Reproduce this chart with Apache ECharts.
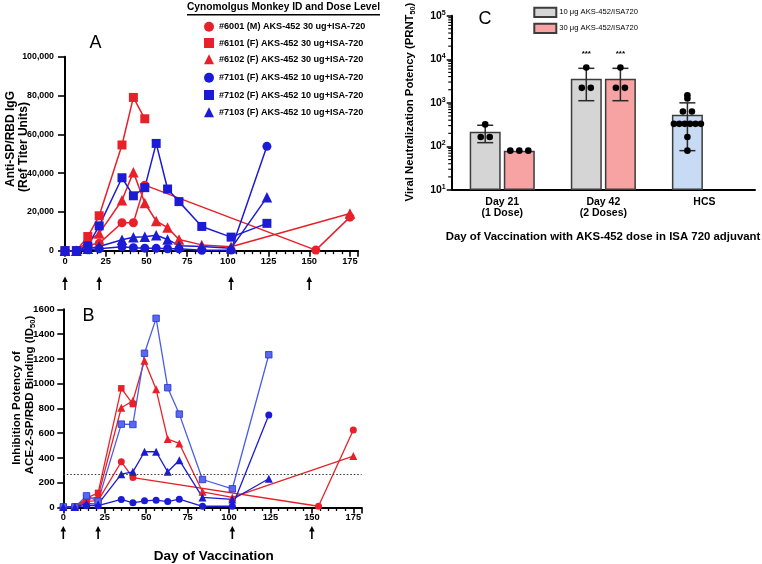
<!DOCTYPE html>
<html><head><meta charset="utf-8">
<script src="https://cdn.jsdelivr.net/npm/echarts@6/dist/echarts.min.js"></script>
<style>html,body{margin:0;padding:0;background:#fff}#c{width:762px;height:564px}</style>
</head><body><div id="c"></div>
<script>
// ---------- DATA ----------
const days = [0, 7, 14, 21, 35, 42, 49, 56, 63, 70, 84, 102, 124, 154, 175];
const doseDays = [0, 21, 102, 150];
const xTicksAB = [0, 25, 50, 75, 100, 125, 150, 175];

// Panel A: Anti-SP/RBD IgG (Ref Titer Units)
const igg6001 = [0, 0, 2800, 3800, 14400, 14400, 33800, null, null, null, null, null, null, 300, 17300];
const igg6101 = [0, 0, 7300, 18000, 54500, 79000, 68000, null, null, null, null, null, null, null, null];
const igg6102 = [0, 0, 4500, 8900, 26000, 40500, 24600, 15300, 11900, 5800, 3000, 2000, null, null, 19200];
const igg7101 = [0, 0, 500, 1000, 2000, 1500, 1300, 1200, 1000, 1000, 200, 300, 53800, null, null];
const igg7102 = [0, 0, 2500, 12800, 37600, 28300, 32500, 55300, 31800, 25300, 12500, 7000, 14100, null, null];
const igg7103 = [0, 0, 1000, 2200, 5600, 6900, 7200, 8000, 5800, 2600, 2200, 1200, 27500, null, null];

// Panel B: Inhibition potency ID50
const ace6001 = [5, 5, 50, 55, 369, 242, null, null, null, null, null, null, null, 10, 625];
const ace6101 = [5, 5, 75, 118, 962, 835, null, null, null, null, null, null, null, null, null];
const ace6102 = [5, 5, 60, 90, 805, 862, 1185, 954, 552, 517, 127, 81, null, null, 415];
const ace7101 = [5, 5, 15, 15, 65, 38, 54, 59, 48, 67, 10, 10, 746, null, null];
const ace7102 = [5, 5, 94, 51, 673, 670, 1245, 1527, 967, 754, 226, 151, 1233, null, null];
const ace7103 = [5, 5, 32, 27, 269, 288, 450, 450, 288, 382, 81, 65, 232, null, null];
const aceThreshold = 270;

const animalNames = [
  '#6001 (M) AKS-452 30 ug+ISA-720',
  '#6101 (F) AKS-452 30 ug+ISA-720',
  '#6102 (F) AKS-452 30 ug+ISA-720',
  '#7101 (F) AKS-452 10 ug+ISA-720',
  '#7102 (F) AKS-452 10 ug+ISA-720',
  '#7103 (F) AKS-452 10 ug+ISA-720'
];

// Panel C: PRNT50
const categoriesC = ['Day 21\n(1 Dose)', 'Day 42\n(2 Doses)', 'HCS'];
const groupNames = ['10 μg AKS-452/ISA720', '30 μg AKS-452/ISA720'];
const mean10 = [216, 3580, 530];      // last = HCS
const mean30 = [80, 3580];
const err10Low = [122, 1120, 80];
const err10High = [306, 6200, 1000];
const err30Low = [80, 1120];
const err30High = [80, 6200];
const sig10 = ['', '***', ''];
const sig30 = ['', '***'];
const dots10 = [[164, 164, 320], [2210, 2210, 6450], [1256, 1490, 635, 635, 330, 330, 330, 330, 330, 330, 164, 80]];
const dots30 = [[80, 80, 80], [2210, 2210, 6450]];

// ---------- STYLE ----------
const FONT = '"Liberation Sans", Arial, sans-serif';
const RED = '#e8202a', BLUE = '#1b1bd6';
const LB_LINE = '#4a5ce6', LB_FILL = '#5868f0', LB_BORDER = '#2434cc';
const BAR_W = 31, BAR_GAP = 0.1;
const SLOT_OFF = (BAR_W + BAR_W * BAR_GAP) / 2;

const igg = [igg6001, igg6101, igg6102, igg7101, igg7102, igg7103];
const ace = [ace6001, ace6101, ace6102, ace7101, ace7102, ace7103];
const colors = [RED, RED, RED, BLUE, BLUE, BLUE];
const symbols = ['circle', 'rect', 'triangle', 'circle', 'rect', 'triangle'];
const sizeA = {circle: 9, rect: 9, triangle: 10.5};
const sizeB = {circle: 7, rect: 6.5, triangle: 8};

function pairs(vals) {
  const out = [];
  vals.forEach((v, i) => { if (v !== null) out.push([days[i], v]); });
  return out;
}

const gridA = {left: 65, top: 56.7, width: 293.1, height: 194};
const gridB = {left: 63.3, top: 309.3, width: 298.3, height: 198.2};
const gridC = {left: 451.7, top: 15.7, width: 303.3, height: 174.3};

function majorX(gi) {
  return {
    type: 'value', gridIndex: gi, position: 'bottom', min: 0, max: 180, interval: 25,
    axisLine: {show: true, onZero: false, lineStyle: {color: '#000', width: 2}},
    axisTick: {show: true, length: 6, lineStyle: {color: '#000', width: 1.6}},
    minorTick: {show: true, splitNumber: 5, length: 3.5, lineStyle: {color: '#000', width: 1.3}},
    axisLabel: {show: true, showMaxLabel: false, margin: gi === 0 ? 6 : 5, color: '#000',
      fontFamily: FONT, fontWeight: 'bold', fontSize: 9.3,
      formatter: v => xTicksAB.indexOf(v) >= 0 ? String(v) : ''},
    splitLine: {show: false}
  };
}

const series = [];
igg.forEach((vals, i) => {
  series.push({
    type: 'line', name: animalNames[i], xAxisIndex: 0, yAxisIndex: 0,
    data: pairs(vals), connectNulls: true, symbol: symbols[i], symbolSize: sizeA[symbols[i]],
    lineStyle: {color: colors[i], width: 1.5}, itemStyle: {color: colors[i]},
    z: 3
  });
});
ace.forEach((vals, i) => {
  const lb = i === 4;
  const s = {
    type: 'line', name: animalNames[i], xAxisIndex: 1, yAxisIndex: 1,
    data: pairs(vals), connectNulls: true, symbol: symbols[i], symbolSize: sizeB[symbols[i]],
    lineStyle: {color: lb ? LB_LINE : colors[i], width: 1.3},
    itemStyle: lb ? {color: LB_FILL, borderColor: LB_BORDER, borderWidth: 0.8} : {color: colors[i]},
    z: 3
  };
  if (i === 0) {
    s.markLine = {silent: true, symbol: 'none', label: {show: false}, animation: false,
      lineStyle: {type: [1.5, 2], color: '#333', width: 1}, data: [{yAxis: aceThreshold}]};
  }
  series.push(s);
});

// Panel C bars
series.push({
  type: 'bar', name: groupNames[0], xAxisIndex: 2, yAxisIndex: 2,
  barWidth: BAR_W, barGap: (BAR_GAP * 100) + '%',
  data: mean10.map((v, i) => i === 2 ? {value: v, itemStyle: {color: '#c7dbf4'}} : v),
  itemStyle: {color: '#d5d5d5', borderColor: '#3c3c3c', borderWidth: 1.5}, z: 2
});
series.push({
  type: 'bar', name: groupNames[1], xAxisIndex: 2, yAxisIndex: 2,
  barWidth: BAR_W, barGap: (BAR_GAP * 100) + '%',
  data: mean30.concat(['-']),
  itemStyle: {color: '#f7a3a3', borderColor: '#3c3c3c', borderWidth: 1.5}, z: 2
});

// Error bars
const errData = [], sigs = [];
mean10.forEach((m, i) => { errData.push([i, 0, err10Low[i], err10High[i]]); sigs.push(sig10[i]); });
mean30.forEach((m, i) => { errData.push([i, 1, err30Low[i], err30High[i]]); sigs.push(sig30[i]); });
series.push({
  type: 'custom', xAxisIndex: 2, yAxisIndex: 2, data: errData, encode: {x: 0, y: [2, 3]}, z: 5,
  renderItem(params, api) {
    const cat = api.value(0), slot = api.value(1);
    const lo = api.coord([cat, api.value(2)]), hi = api.coord([cat, api.value(3)]);
    const x = lo[0] + (slot === 0 ? -1 : 1) * SLOT_OFF;
    const cw = 8, st = {stroke: '#2a2a2a', lineWidth: 1.5};
    const ch = [];
    if (Math.abs(lo[1] - hi[1]) > 1) {
      ch.push({type: 'line', shape: {x1: x, y1: lo[1], x2: x, y2: hi[1]}, style: st});
      ch.push({type: 'line', shape: {x1: x - cw, y1: hi[1], x2: x + cw, y2: hi[1]}, style: st});
      ch.push({type: 'line', shape: {x1: x - cw, y1: lo[1], x2: x + cw, y2: lo[1]}, style: st});
    }
    const s = sigs[params.dataIndex];
    if (s) ch.push({type: 'text', x: x, y: hi[1] - 15,
      style: {text: s, fill: '#000', font: 'bold 8px ' + FONT, textAlign: 'center', textVerticalAlign: 'middle', align: 'center', verticalAlign: 'middle'}});
    return {type: 'group', children: ch};
  }
});

// Dots
function jitter(vals) {
  const counts = {}, idx = {};
  vals.forEach(v => counts[v] = (counts[v] || 0) + 1);
  return vals.map(v => {
    const n = counts[v]; const i = idx[v] = (idx[v] || 0); idx[v]++;
    const sp = n > 1 ? Math.min(9, 27 / (n - 1)) : 0;
    return (i - (n - 1) / 2) * sp;
  });
}
const dotData = [];
dots10.forEach((vals, c) => { const j = jitter(vals); vals.forEach((v, k) => dotData.push([c, 0, v, j[k]])); });
dots30.forEach((vals, c) => { const j = jitter(vals); vals.forEach((v, k) => dotData.push([c, 1, v, j[k]])); });
series.push({
  type: 'custom', xAxisIndex: 2, yAxisIndex: 2, data: dotData, encode: {x: 0, y: 2}, z: 6,
  renderItem(params, api) {
    const p = api.coord([api.value(0), api.value(2)]);
    const x = p[0] + (api.value(1) === 0 ? -1 : 1) * SLOT_OFF + api.value(3);
    return {type: 'circle', shape: {cx: x, cy: p[1], r: 3.3}, style: {fill: '#000'}};
  }
});

// Log minor ticks for panel C
const minorLog = [];
for (let d = 1; d < 5; d++) for (let k = 2; k <= 9; k++) minorLog.push([0, k * Math.pow(10, d)]);
series.push({
  type: 'custom', xAxisIndex: 2, yAxisIndex: 2, data: minorLog, encode: {x: 0, y: 1}, z: 4, silent: true, clip: false,
  renderItem(params, api) {
    const p = api.coord([0, api.value(1)]);
    const band = api.size([1, 0])[0];
    const x0 = p[0] - band / 2;
    return {type: 'line', shape: {x1: x0 - 3.5, y1: p[1], x2: x0, y2: p[1]}, style: {stroke: '#000', lineWidth: 1.1}};
  }
});

const legendText = {color: '#000', fontFamily: FONT, fontWeight: 'bold', fontSize: 9.1};
const option = {
  animation: false,
  grid: [gridA, gridB, gridC],
  xAxis: [majorX(0), majorX(1), {
    type: 'category', gridIndex: 2, data: categoriesC, boundaryGap: true,
    axisLine: {lineStyle: {color: '#000', width: 2}},
    axisTick: {alignWithLabel: true, length: 5, lineStyle: {color: '#000', width: 1.5}},
    axisLabel: {color: '#000', fontFamily: FONT, fontWeight: 'bold', fontSize: 10.5, lineHeight: 11.5, margin: 6}
  }],
  yAxis: [{
    type: 'value', gridIndex: 0, min: 0, max: 100000, interval: 20000,
    axisLine: {show: true, lineStyle: {color: '#000', width: 2}},
    axisTick: {show: true, length: 7, lineStyle: {color: '#000', width: 1.6}},
    axisLabel: {color: '#000', fontFamily: FONT, fontWeight: 'bold', fontSize: 8.8, margin: 11,
      formatter: v => v.toLocaleString('en-US')},
    splitLine: {show: false}
  }, {
    type: 'value', gridIndex: 1, min: 0, max: 1600, interval: 200,
    axisLine: {show: true, lineStyle: {color: '#000', width: 2}},
    axisTick: {show: true, length: 6, lineStyle: {color: '#000', width: 1.6}},
    axisLabel: {color: '#000', fontFamily: FONT, fontWeight: 'bold', fontSize: 9.8, margin: 8.5,
      formatter: v => String(v)},
    splitLine: {show: false}
  }, {
    type: 'log', gridIndex: 2, logBase: 10, min: 10, max: 100000, startValue: 10,
    axisLine: {show: true, lineStyle: {color: '#000', width: 2}},
    axisTick: {show: true, length: 5, lineStyle: {color: '#000', width: 1.5}},
    axisLabel: {color: '#000', margin: 6,
      formatter: v => '{b|10}{s|' + Math.round(Math.log10(v)) + '}',
      rich: {b: {fontFamily: FONT, fontWeight: 'bold', fontSize: 10.5, color: '#000'},
             s: {fontFamily: FONT, fontWeight: 'bold', fontSize: 7, color: '#000', padding: [0, 0, 6, 0]}}},
    splitLine: {show: false}
  }],
  legend: [{
    data: animalNames.slice(0, 3).map((n, i) => ({name: n, icon: symbols[i]})),
    orient: 'vertical', left: 204, top: 21.7, padding: 0, itemWidth: 10, itemHeight: 10, itemGap: 6.3,
    textStyle: legendText, selectedMode: false
  }, {
    data: animalNames.slice(3).map((n, i) => ({name: n, icon: symbols[i + 3]})),
    orient: 'vertical', left: 204, top: 72.7, padding: 0, itemWidth: 10, itemHeight: 10, itemGap: 7.3,
    textStyle: legendText, selectedMode: false
  }, {
    data: groupNames.map(n => ({name: n, icon: 'rect'})),
    orient: 'vertical', left: 533.3, top: 6.7, padding: 0, itemWidth: 22, itemHeight: 9.3, itemGap: 4.7,
    textStyle: {color: '#000', fontFamily: FONT, fontSize: 7.6, padding: [0, 0, 0, -2]}, selectedMode: false
  }],
  series: series
};

const chart = echarts.init(document.getElementById('c'));
chart.setOption(option);

// ---------- annotations ----------
function txt(x, y, text, font, rot, rich) {
  const st = {text: text, fill: '#000', font: font, textAlign: 'center', textVerticalAlign: 'middle', align: 'center', verticalAlign: 'middle'};
  if (rich) st.rich = rich;
  return {type: 'text', x: x, y: y, rotation: rot || 0, style: st, z: 100};
}
const subRich = (fs) => ({
  a: {fontFamily: FONT, fontWeight: 'bold', fontSize: fs, fill: '#000'},
  s: {fontFamily: FONT, fontWeight: 'bold', fontSize: fs * 0.65, fill: '#000', padding: [fs * 0.45, 0, 0, 0]}
});
const R90 = Math.PI / 2;
const graphics = [
  txt(95.5, 43.5, 'A', '18px ' + FONT),
  txt(88.5, 316, 'B', '18px ' + FONT),
  txt(485, 19, 'C', '18px ' + FONT),
  txt(283.5, 7.5, 'Cynomolgus Monkey ID and Dose Level', 'bold 10.2px ' + FONT),
  {type: 'rect', shape: {x: 187, y: 14, width: 193, height: 1.5}, style: {fill: '#000'}},
  txt(11, 139, 'Anti-SP/RBD IgG', 'bold 12px ' + FONT, R90),
  txt(23.5, 147, '(Ref Titer Units)', 'bold 12px ' + FONT, R90),
  txt(17, 408, 'Inhibition Potency of', 'bold 11.5px ' + FONT, R90),
  txt(30, 395, '{a|ACE-2-SP/RBD Binding (ID}{s|50}{a|)}', 'bold 11.5px ' + FONT, R90, subRich(11.5)),
  txt(410, 102, '{a|Viral Neutralization Potency (PRNT}{s|50}{a|)}', 'bold 11.3px ' + FONT, R90, subRich(11.3)),
  txt(213.7, 556, 'Day of Vaccination', 'bold 13.5px ' + FONT),
  txt(603, 237, 'Day of Vaccination with AKS-452 dose in ISA 720 adjuvant', 'bold 11.4px ' + FONT)
];
function arrow(x, yTop, yBot) {
  return {type: 'group', children: [
    {type: 'line', shape: {x1: x, y1: yTop + 4, x2: x, y2: yBot}, style: {stroke: '#000', lineWidth: 1.6}},
    {type: 'polygon', shape: {points: [[x - 2.8, yTop + 5.5], [x, yTop], [x + 2.8, yTop + 5.5]]}, style: {fill: '#000'}}
  ]};
}
doseDays.forEach(d => {
  const xa = chart.convertToPixel({xAxisIndex: 0}, d);
  const xb = chart.convertToPixel({xAxisIndex: 1}, d);
  graphics.push(arrow(xa, 276.5, 290));
  graphics.push(arrow(xb, 526, 539));
});
chart.setOption({graphic: graphics});
</script></body></html>
